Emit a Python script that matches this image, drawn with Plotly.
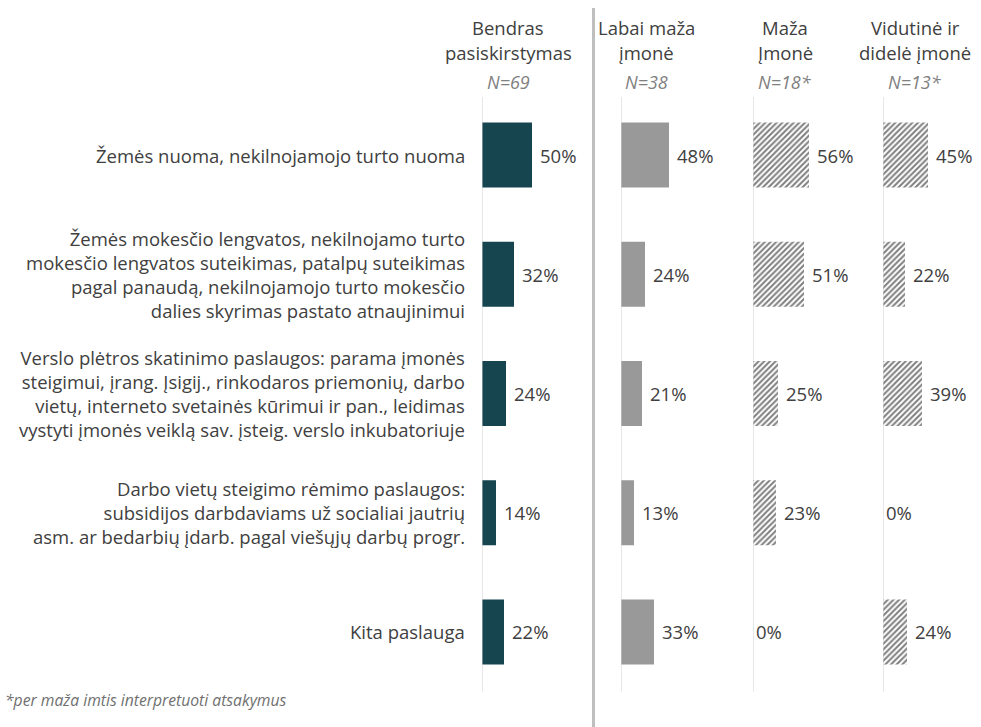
import plotly.graph_objects as go

W, H = 981, 727

categories = [
    "Žemės nuoma, nekilnojamojo turto nuoma",
    "Žemės mokesčio lengvatos, nekilnojamo turto<br>mokesčio lengvatos suteikimas, patalpų suteikimas<br>pagal panaudą, nekilnojamojo turto mokesčio<br>dalies skyrimas pastato atnaujinimui",
    "Verslo plėtros skatinimo paslaugos: parama įmonės<br>steigimui, įrang. Įsigij., rinkodaros priemonių, darbo<br>vietų, interneto svetainės kūrimui ir pan., leidimas<br>vystyti įmonės veiklą sav. įsteig. verslo inkubatoriuje",
    "Darbo vietų steigimo rėmimo paslaugos:<br>subsidijos darbdaviams už socialiai jautrių<br>asm. ar bedarbių įdarb. pagal viešųjų darbų progr.",
    "Kita paslauga",
]

group_titles = ["Bendras<br>pasiskirstymas", "Labai maža<br>įmonė", "Maža<br>Įmonė", "Vidutinė ir<br>didelė įmonė"]
group_n = ["N=69", "N=38", "N=18*", "N=13*"]

bendras = [50, 32, 24, 14, 22]
labai_maza = [48, 24, 21, 13, 33]
maza = [56, 51, 25, 23, 0]
vidutine = [45, 22, 39, 0, 24]

series = [bendras, labai_maza, maza, vidutine]
footnote = "*per maža imtis interpretuoti atsakymus"

FONT = "Open Sans"
TXT = "#404040"

# pixel layout of panels: (left px, right px)
panels = [(482, 592), (621, 731), (753, 863), (883, 981)]
title_centers = [508, 646, 785, 915]

fig = go.Figure()
n = len(categories)
ys = list(range(n))

hatch = dict(shape="/", fgcolor="#000000", bgcolor="white", size=4, solidity=0.5)
styles = [
    dict(color="#164550"),
    dict(color="#999999"),
    dict(color="white", pattern=hatch),
    dict(color="white", pattern=hatch),
]

for k, vals in enumerate(series):
    ax = "" if k == 0 else str(k + 1)
    fig.add_trace(go.Bar(
        x=vals, y=ys, orientation="h", width=0.545,
        marker=dict(line=dict(width=0), **styles[k]),
        xaxis="x" + ax, yaxis="y", showlegend=False, hoverinfo="skip",
    ))

layout = dict(
    width=W, height=H, margin=dict(l=0, r=0, t=0, b=0),
    paper_bgcolor="white", plot_bgcolor="white",
)
ytop, ybot = 95.4, 691.6
layout["yaxis"] = dict(domain=[1 - ybot / H, 1 - ytop / H], range=[n - 0.5, -0.5],
                       visible=False, fixedrange=True)
for k, (l, r) in enumerate(panels):
    name = "xaxis" if k == 0 else f"xaxis{k+1}"
    layout[name] = dict(domain=[l / W, r / W], range=[0, r - l], visible=False,
                        anchor="y", fixedrange=True)
fig.update_layout(**layout)

annotations = []
shapes = []
# axis lines for each panel
for k in range(4):
    ax = "x" if k == 0 else f"x{k+1}"
    shapes.append(dict(type="line", xref=ax, yref="paper", x0=0, x1=0,
                       y0=1 - ybot / H, y1=1 - 97 / H,
                       line=dict(color="#D0D0D0", width=1)))
# separator
shapes.append(dict(type="line", xref="paper", yref="paper", x0=593.5 / W, x1=593.5 / W,
                   y0=0, y1=1 - 8 / H, line=dict(color="#BFBFBF", width=3)))

# value labels
for k, vals in enumerate(series):
    ax = "x" if k == 0 else f"x{k+1}"
    for i, v in enumerate(vals):
        annotations.append(dict(x=v, y=i, xref=ax, yref="y", text=f"{v}%",
                                showarrow=False, xanchor="left", yanchor="middle",
                                xshift=6 if v > 0 else 1,
                                font=dict(family=FONT, size=18.5, color=TXT)))

# category labels (multi-line, right aligned)
for i, cat in enumerate(categories):
    annotations.append(dict(x=467 / W, y=i, xref="paper", yref="y", text=cat,
                            showarrow=False, xanchor="right", yanchor="middle", align="right",
                            font=dict(family=FONT, size=18.5, color=TXT)))

# headers
for k in range(4):
    t1, t2 = group_titles[k].split("<br>")
    for txt, py in ((t1, 28), (t2, 53)):
        annotations.append(dict(x=title_centers[k] / W, y=1 - py / H, xref="paper", yref="paper",
                                text=txt, showarrow=False, xanchor="center", yanchor="middle",
                                font=dict(family=FONT, size=18.5, color=TXT)))
    annotations.append(dict(x=title_centers[k] / W, y=1 - 82 / H, xref="paper", yref="paper",
                            text=f"<i>{group_n[k]}</i>", showarrow=False, xanchor="center",
                            yanchor="middle", font=dict(family=FONT, size=18, color="#808080")))

annotations.append(dict(x=3 / W, y=1 - 700 / H, xref="paper", yref="paper",
                        text=f"<i>{footnote}</i>", showarrow=False, xanchor="left",
                        yanchor="middle", font=dict(family=FONT, size=15.7, color="#707070")))

fig.update_layout(annotations=annotations, shapes=shapes)
fig.write_html("out.html", config={"displayModeBar": False},
               post_script="document.body.style.margin='0';document.body.style.padding='0';")
